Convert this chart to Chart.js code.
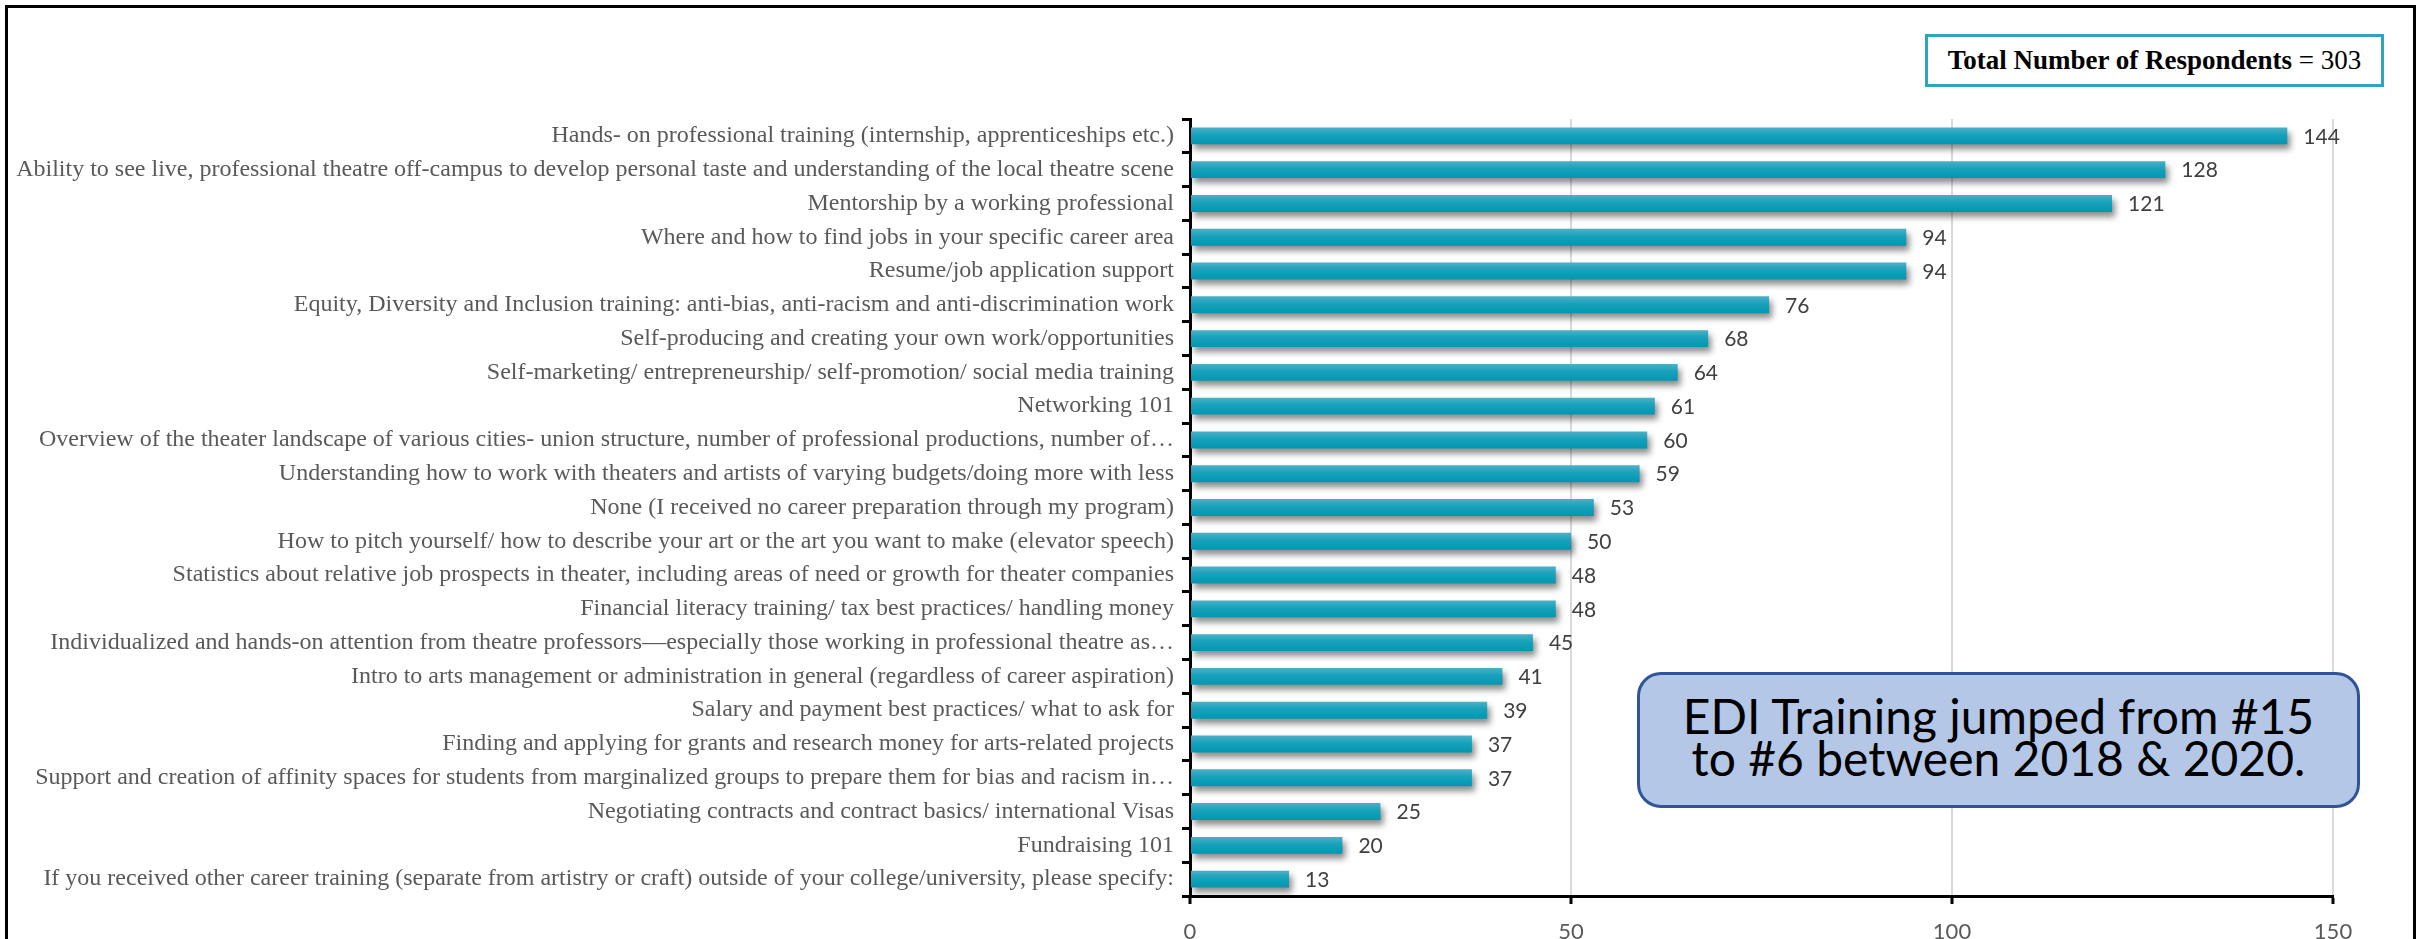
<!DOCTYPE html>
<html>
<head>
<meta charset="utf-8">
<script src="https://cdn.jsdelivr.net/npm/chart.js@4"></script>
<style>
  html, body { margin: 0; padding: 0; background: #fff; }
  #wrap { position: relative; width: 2422px; height: 939px; overflow: hidden; background: #fff; }
  #chart { position: absolute; left: 0; top: 0; }
  #frame { position: absolute; left: 5px; top: 5px; width: 2411px; height: 960px; border: 3px solid #000; box-sizing: border-box; }
  #total { position: absolute; left: 1925px; top: 34px; width: 459px; height: 53px; box-sizing: border-box;
           border: 3px solid #2fa4be; background: #fff; display: flex; align-items: center; justify-content: center;
           font-family: "Liberation Serif", serif; font-size: 27px; color: #000; white-space: nowrap; }
  #note { position: absolute; left: 1637px; top: 672px; width: 723px; height: 136px; box-sizing: border-box;
          background: #b4c7e7; border: 3px solid #2f5597; border-radius: 24px; padding-bottom: 6px;
          display: flex; flex-direction: column; align-items: center; justify-content: center;
          font-family: Lato, "Open Sans", sans-serif; font-size: 48px; line-height: 42px; color: #000; text-align: center; }
</style>
</head>
<body>
<div id="wrap">
  <canvas id="chart" width="2422" height="939"></canvas>
  <div id="frame"></div>
  <div id="total"><span><b>Total Number of Respondents</b> = 303</span></div>
  <div id="note"><div>EDI Training jumped from #15</div><div>to #6 between 2018 &amp; 2020.</div></div>
</div>
<script>
// Career preparation topics, ordered by number of respondents
const categories = [
  "Hands- on professional training (internship, apprenticeships etc.)",
  "Ability to see live, professional theatre off-campus to develop personal taste and understanding of the local theatre scene",
  "Mentorship by a working professional",
  "Where and how to find jobs in your specific career area",
  "Resume/job application support",
  "Equity, Diversity and Inclusion training: anti-bias, anti-racism and anti-discrimination work",
  "Self-producing and creating your own work/opportunities",
  "Self-marketing/ entrepreneurship/ self-promotion/ social media training",
  "Networking 101",
  "Overview of the theater landscape of various cities- union structure, number of professional productions, number of\u2026",
  "Understanding how to work with theaters and artists of varying budgets/doing more with less",
  "None (I received no career preparation through my program)",
  "How to pitch yourself/ how to describe your art or the art you want to make (elevator speech)",
  "Statistics about relative job prospects in theater, including areas of need or growth for theater companies",
  "Financial literacy training/ tax best practices/ handling money",
  "Individualized and hands-on attention from theatre professors\u2014especially those working in professional theatre as\u2026",
  "Intro to arts management or administration in general (regardless of career aspiration)",
  "Salary and payment best practices/ what to ask for",
  "Finding and applying for grants and research money for arts-related projects",
  "Support and creation of affinity spaces for students from marginalized groups to prepare them for bias and racism in\u2026",
  "Negotiating contracts and contract basics/ international Visas",
  "Fundraising 101",
  "If you received other career training (separate from artistry or craft) outside of your college/university, please specify:"
];
const respondents = [144, 128, 121, 94, 94, 76, 68, 64, 61, 60, 59, 53, 50, 48, 48, 45, 41, 39, 37, 37, 25, 20, 13];
const axisTicks = [0, 50, 100, 150];

const BAR_FRACTION = 0.5;

// Soft drop shadow under the bars plus value labels at the bar ends
const barDecor = {
  id: 'barDecor',
  beforeDatasetsDraw(chart) {
    const ctx = chart.ctx;
    ctx.save();
    ctx.shadowColor = 'rgba(0,0,0,0.45)';
    ctx.shadowBlur = 6;
    ctx.shadowOffsetX = 3;
    ctx.shadowOffsetY = 5;
  },
  afterDatasetsDraw(chart) {
    const ctx = chart.ctx;
    ctx.restore();
    const meta = chart.getDatasetMeta(0);
    ctx.save();
    ctx.font = '21px Lato, "Open Sans", sans-serif';
    ctx.fillStyle = '#404040';
    ctx.textAlign = 'left';
    ctx.textBaseline = 'middle';
    meta.data.forEach((bar, i) => {
      ctx.fillText(String(respondents[i]), bar.x + 16, bar.y + 1);
    });
    ctx.restore();
  }
};

// Vertical sheen across each bar, lighter at the top edge
function barFill(c) {
  const chart = c.chart;
  const yScale = chart.scales && chart.scales.y;
  if (!yScale || c.dataIndex === undefined) return '#139fba';
  const yc = yScale.getPixelForValue(c.dataIndex);
  const half = (yScale.height / categories.length) * BAR_FRACTION / 2;
  if (!Number.isFinite(yc) || !Number.isFinite(half) || half <= 0) return '#139fba';
  const g = chart.ctx.createLinearGradient(0, yc - half, 0, yc + half);
  g.addColorStop(0, '#4cb0c7');
  g.addColorStop(0.45, '#17a1bb');
  g.addColorStop(1, '#0097b2');
  return g;
}

new Chart(document.getElementById('chart'), {
  type: 'bar',
  data: {
    labels: categories,
    datasets: [{
      data: respondents,
      backgroundColor: barFill,
      borderWidth: 0,
      categoryPercentage: 1,
      barPercentage: BAR_FRACTION
    }]
  },
  options: {
    indexAxis: 'y',
    responsive: false,
    animation: false,
    devicePixelRatio: 1,
    layout: { padding: { left: 0, top: 119, right: 89, bottom: 0 } },
    plugins: { legend: { display: false }, tooltip: { enabled: false } },
    scales: {
      x: {
        min: axisTicks[0],
        max: axisTicks[axisTicks.length - 1],
        afterBuildTicks(scale) { scale.ticks = axisTicks.map(v => ({ value: v })); },
        afterFit(scale) { scale.height = 43; },
        border: { display: true, color: '#000', width: 3 },
        grid: {
          color: (c) => c.tick && c.tick.value === 0 ? 'rgba(0,0,0,0)' : '#d9d9d9',
          lineWidth: 2,
          tickColor: '#000',
          tickWidth: 3,
          tickLength: 8,
          drawTicks: true
        },
        ticks: {
          color: '#595959',
          padding: 15,
          font: { family: 'Lato, "Open Sans", sans-serif', size: 22 }
        }
      },
      y: {
        afterFit(scale) { scale.width = 1190; },
        border: { display: true, color: '#000', width: 3 },
        grid: {
          offset: true,
          drawOnChartArea: false,
          drawTicks: true,
          tickLength: 8,
          tickColor: '#000',
          tickWidth: 3
        },
        ticks: {
          color: '#595959',
          padding: 8,
          autoSkip: false,
          font: { family: '"Liberation Serif", "Times New Roman", serif', size: 24 }
        }
      }
    }
  },
  plugins: [barDecor]
});
</script>
</body>
</html>
